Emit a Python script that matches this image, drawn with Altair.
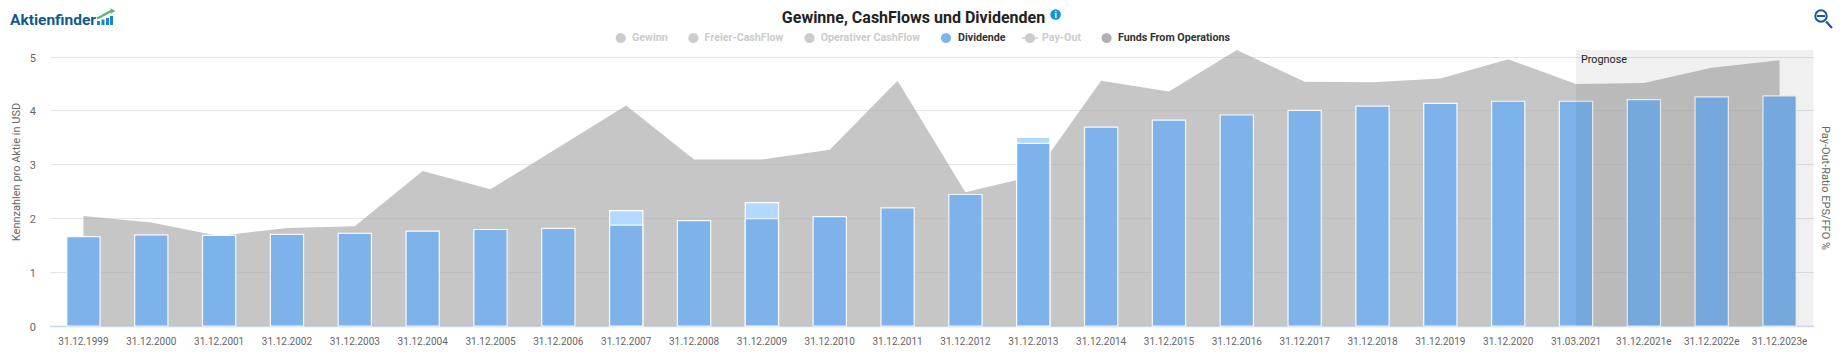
import altair as alt
import pandas as pd

categories = ["31.12.1999","31.12.2000","31.12.2001","31.12.2002","31.12.2003","31.12.2004",
              "31.12.2005","31.12.2006","31.12.2007","31.12.2008","31.12.2009","31.12.2010",
              "31.12.2011","31.12.2012","31.12.2013","31.12.2014","31.12.2015","31.12.2016",
              "31.12.2017","31.12.2018","31.12.2019","31.12.2020","31.03.2021","31.12.2021e",
              "31.12.2022e","31.12.2023e"]
dividende = [1.66,1.69,1.68,1.70,1.72,1.76,1.79,1.81,1.87,1.955,1.99,2.03,2.19,2.44,3.39,
             3.69,3.82,3.915,4.00,4.08,4.13,4.17,4.17,4.20,4.25,4.27]
dividende_gesamt = [None,None,None,None,None,None,None,None,2.14,None,2.29,None,None,None,3.50,
                    None,None,None,None,None,None,None,None,None,None,None]
ffo = [2.04,1.92,1.67,1.82,1.85,2.875,2.535,3.31,4.09,3.09,3.09,3.27,4.55,2.48,2.78,
       4.55,4.35,5.12,4.53,4.52,4.59,4.95,4.49,4.51,4.79,4.93]
y_ticks = [0,1,2,3,4,5]

FONT = "Roboto"
PAD_L, PAD_T, W, H = 41.5, 42, 1764, 276
OX, OY = PAD_L + 8, PAD_T + 8
STEP = W / len(categories)
one = alt.Data(values=[{"a": 1}])
df = pd.DataFrame({"cat": categories, "div": dividende, "ges": dividende_gesamt, "ffo": ffo})

x = alt.X("cat:N", sort=None, title=None,
          scale=alt.Scale(type="band", paddingInner=0.51, paddingOuter=0.255),
          axis=alt.Axis(labelAngle=0, labelFontSize=10, labelFont=FONT, labelColor="#666666",
                        ticks=False, domainColor="#ccd6eb", domainWidth=1.5, labelPadding=10,
                        labelOverlap=False, grid=False))
ydom = alt.Scale(domain=[0, H / 53.9], nice=False)
yaxis = alt.Axis(values=y_ticks, labelFontSize=11, labelFont=FONT, labelColor="#666666", ticks=False,
                 domain=False, gridColor="#e6e6e6", grid=True, labelPadding=14, labelOffset=1.5,
                 title=None, format="d")

area = alt.Chart(df).mark_area(color="#a8a8a8", opacity=0.66).encode(
    x=x, y=alt.Y("ffo:Q", scale=ydom, axis=yaxis))
light = alt.Chart(df).mark_bar(color="#b3d9ff", stroke="#ffffff", strokeWidth=1.2).encode(
    x=x, y=alt.Y("ges:Q", scale=ydom, axis=yaxis))
dark = alt.Chart(df).mark_bar(color="#7db3ea", stroke="#ffffff", strokeWidth=1.2, strokeOpacity=0.9).encode(
    x=x, y=alt.Y("div:Q", scale=ydom, axis=yaxis))

forecast_start = (categories.index("31.03.2021") + 0.5) * STEP
band = alt.Chart(one).mark_rect(color="#000000", opacity=0.06).encode(
    x=alt.value(forecast_start), x2=alt.value(W), y=alt.value(0), y2=alt.value(H))


def text(s, px, py, size=11, color="#333333", weight="normal", align="left", angle=0):
    return alt.Chart(one).mark_text(text=s, font=FONT, fontSize=size, color=color, fontWeight=weight,
                                    align=align, baseline="middle", angle=angle).encode(
        x=alt.value(px - OX), y=alt.value(py - OY))


def dot(px, py, color, size=100, shape="circle"):
    return alt.Chart(one).mark_point(shape=shape, size=size, strokeWidth=0, opacity=1,
                                     filled=True, color=color).encode(
        x=alt.value(px - OX), y=alt.value(py - OY))


def seg(x1, y1, x2, y2, color, sw=1.0):
    return alt.Chart(one).mark_rule(color=color, strokeWidth=sw).encode(
        x=alt.value(x1 - OX), x2=alt.value(x2 - OX), y=alt.value(y1 - OY), y2=alt.value(y2 - OY))


def box(x1, y1, x2, y2, color):
    return alt.Chart(one).mark_rect(color=color).encode(
        x=alt.value(x1 - OX), x2=alt.value(x2 - OX), y=alt.value(y1 - OY), y2=alt.value(y2 - OY))


legend_names = ["Gewinn", "Freier-CashFlow", "Operativer CashFlow", "Dividende", "Pay-Out", "Funds From Operations"]
legend_dot = [620.7, 693.4, 809.5, 946, 1030, 1106.6]
legend_text = [632, 704.6, 820.7, 958, 1042, 1118]
legend_fill = ["#cccccc", "#cccccc", "#cccccc", "#7cb5ec", "#cccccc", "#b0b0b0"]
legend_font = ["#cccccc", "#cccccc", "#cccccc", "#333333", "#cccccc", "#333333"]
deco = []
for n, dx, tx, fc, tc in zip(legend_names, legend_dot, legend_text, legend_fill, legend_font):
    if n == "Pay-Out":
        deco.append(seg(dx - 8, 38, dx + 8, 38, fc, 1.5))
    deco.append(dot(dx, 38, fc, size=105))
    deco.append(text(n, tx, 38, size=10.7, color=tc, weight="bold"))

deco += [
    text("Gewinne, CashFlows und Dividenden", 913.5, 18, size=16, color="#222222", weight="bold", align="center"),
    dot(1055.6, 14.5, "#0a95dd", size=110),
    text("i", 1055.6, 15, size=9, color="#ffffff", weight="bold", align="center"),
    text("Prognose", 1581, 60, size=10.8, color="#222222"),
    text("Kennzahlen pro Aktie in USD", 17, 172, size=11, color="#666666", align="center", angle=270),
    text("Pay-Out-Ratio EPS/FFO %", 1825, 188, size=11, color="#666666", align="center", angle=90),
    # logo
    text("Aktienfinder", 10, 19.5, size=15.5, color="#0d5c91", weight="bold"),
    box(97, 21, 100, 25, "#1b87c9"), box(101.5, 19.5, 104.5, 25, "#1b87c9"),
    box(106, 18, 109, 25, "#1b87c9"), box(110, 16, 113, 25, "#1b87c9"),
    seg(97, 18.5, 102, 16, "#5cb56a", 2.5), seg(102, 16, 111, 11, "#5cb56a", 2.5),
    dot(113, 11, "#5cb56a", size=28, shape="triangle-right"),
    # zoom icon
    alt.Chart(one).mark_point(shape="circle", size=130, stroke="#17599c", strokeWidth=2, filled=False, opacity=1).encode(
        x=alt.value(1821 - OX), y=alt.value(16 - OY)),
    seg(1817, 16, 1825, 16, "#17599c", 2),
    seg(1826, 21.5, 1832, 28, "#17599c", 2.2),
]

chart = alt.layer(area, light, dark, band, *deco).properties(
    width=W, height=H,
    padding={"left": PAD_L, "top": PAD_T, "right": 21.5, "bottom": 22},
    autosize=alt.AutoSizeParams(type="none"),
).configure_view(stroke=None)

chart.save("out.html", embed_options={"renderer": "svg", "actions": False})
